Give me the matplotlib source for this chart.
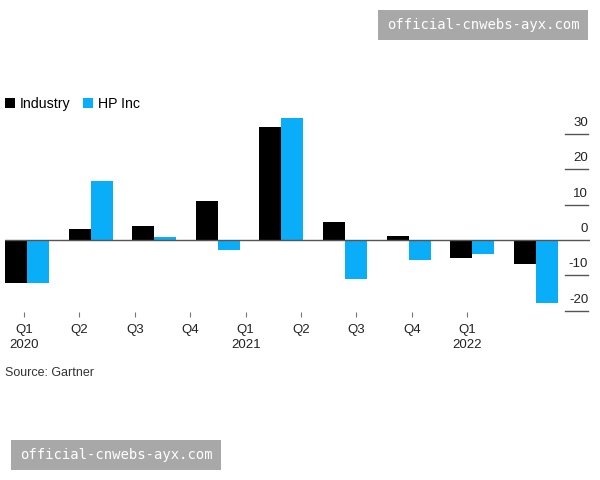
import numpy as np
import matplotlib
matplotlib.use('Agg')
import matplotlib.pyplot as plt
import matplotlib.transforms as mtransforms

plt.rcParams['font.family'] = ['Liberation Sans', 'DejaVu Sans']

# Data (percent change)
quarters = ['Q1\n2020', 'Q2', 'Q3', 'Q4', 'Q1\n2021', 'Q2', 'Q3', 'Q4', 'Q1\n2022']
industry = [-12.1, 3.1, 3.9, 11.0, 31.9, 5.0, 1.0, -5.0, -6.9]
hp_inc = [-12.1, 16.8, 0.9, -2.8, 34.7, -11.0, -5.8, -4.0, -17.9]
y_ticks = [30, 20, 10, 0, -10, -20]

black = '#000000'
blue = '#0AAEF8'
grid_col = '#555555'

fig = plt.figure(figsize=(6, 4.8), dpi=100)
ax = fig.add_axes([5 / 600, 1 - 312 / 480, 585 / 600, (312 - 110) / 480])

x = np.arange(len(quarters))
w = 0.346
b1 = ax.bar(x - w / 2, industry, w, color=black, label='Industry', zorder=2)
b2 = ax.bar(x + w / 2, hp_inc, w, color=blue, label='HP Inc', zorder=2)

ax.set_xlim(-0.346, 8.85)
ax.set_ylim(-20.4, 36.83)

for s in ax.spines.values():
    s.set_visible(False)

# zero line full width, other gridlines only as short stubs on the right
ytr = ax.get_yaxis_transform()
ax.axhline(0, color=grid_col, lw=1.0, zorder=3)
for v in y_ticks:
    if v != 0:
        ax.plot([0.957, 0.997], [v, v], transform=ytr, color=grid_col, lw=1.0, clip_on=False)
lab_tr = mtransforms.offset_copy(ytr, fig=fig, x=0, y=11, units='dots')
for v in y_ticks:
    ax.text(0.997, v, f'{v}', transform=lab_tr, ha='right', va='center',
            fontsize=9.5, color='#222222')
ax.set_yticks([])

# x ticks sit a bit off the bar groups, as in the original
tick_pos = -0.047 + 0.871 * x
ax.set_xticks(tick_pos)
ax.set_xticklabels(quarters, fontsize=9.5, color='#222222', linespacing=1.35)
ax.tick_params(axis='x', length=3.5, width=0.8, color='#777777', pad=5)

fig.legend(handles=[b1, b2], loc='center left', bbox_to_anchor=(5 / 600, 1 - 104 / 480),
           frameon=False, ncol=2, fontsize=10.2, handlelength=0.7, handleheight=0.7,
           handletextpad=0.35, columnspacing=0.9, borderpad=0, borderaxespad=0)

fig.text(5 / 600, 1 - 373 / 480, 'Source: Gartner', fontsize=9, color='#333333', va='center')

# watermarks
wm = dict(fontsize=10, color='white', family='DejaVu Sans Mono', va='center',
          bbox=dict(boxstyle='square,pad=0.6', fc='#A8A8A8', ec='none'))
fig.text(483 / 600, 1 - 25 / 480, 'official-cnwebs-ayx.com', ha='center', **wm)
fig.text(116 / 600, 1 - 455 / 480, 'official-cnwebs-ayx.com', ha='center', **wm)

fig.savefig('out.png', dpi=100)
